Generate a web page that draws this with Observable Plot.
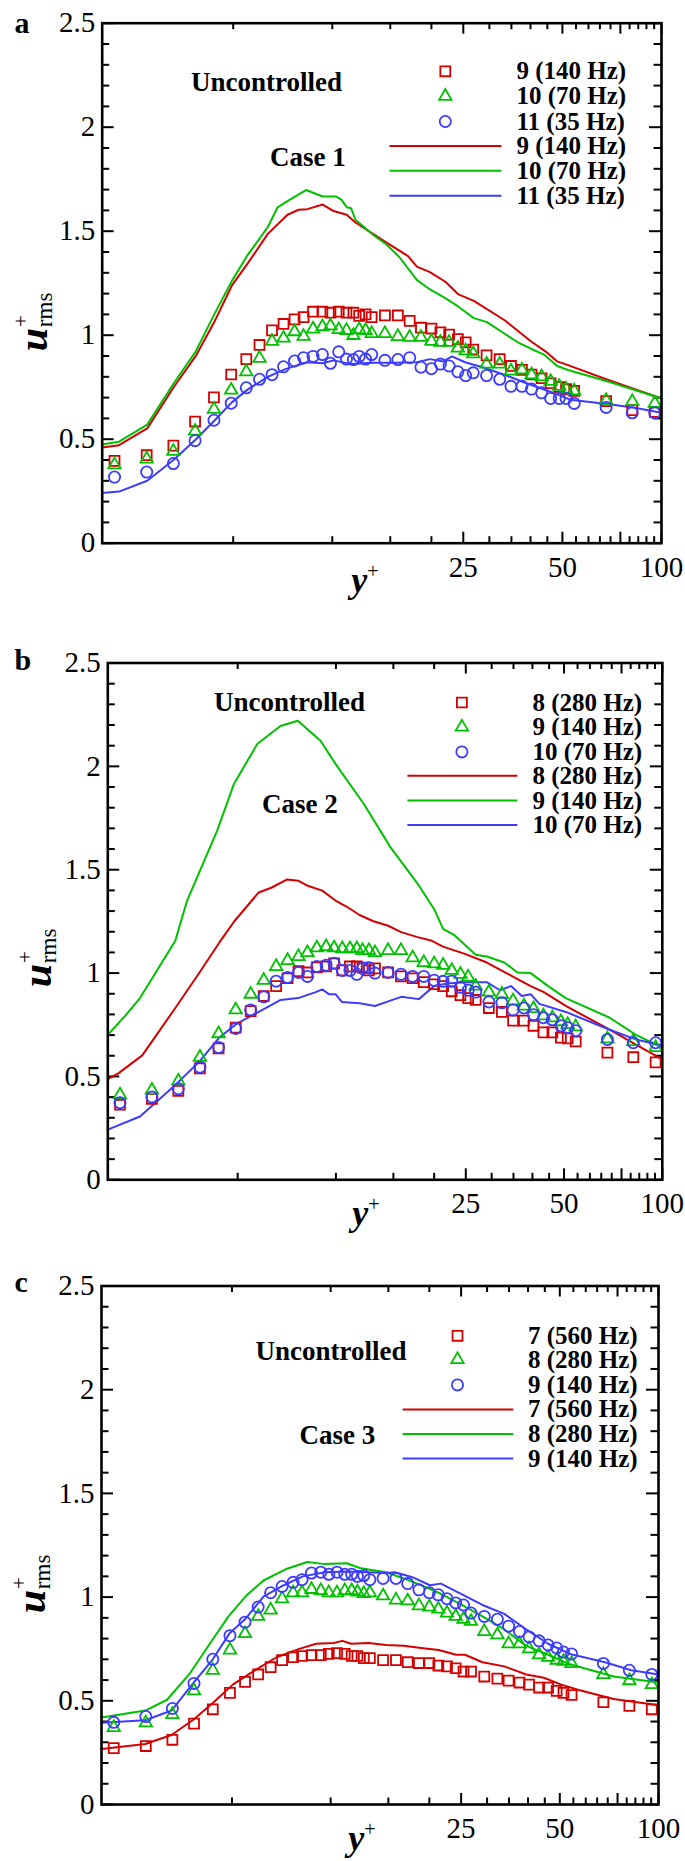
<!DOCTYPE html>
<html><head><meta charset="utf-8">
<script src="https://cdn.jsdelivr.net/npm/d3@7"></script>
<script src="https://cdn.jsdelivr.net/npm/@observablehq/plot@0.6"></script>
<style>
body{margin:0;background:#fff;}
#chart{width:685px;}
#chart svg{display:block;}
#chart svg text{font-family:'Liberation Serif','Times New Roman',serif;}
</style></head><body><div id="chart"></div>
<script>
// ---------- shared measurement positions (y+) ----------
const yPlusExp = [2.18, 2.73, 3.29, 3.83, 4.37, 4.93, 5.48, 6.01, 6.56, 7.11, 7.68, 8.18, 8.74, 9.33, 9.87, 10.46, 11.04, 11.59, 12.07, 12.62, 13.17, 14.45, 15.82, 17.18, 18.59, 20.0, 21.3, 22.64, 24.07, 25.42, 26.8, 29.42, 32.25, 34.9, 37.67, 40.3, 43.23, 46.05, 48.9, 51.3, 54.3, 67.9, 81.5, 95.4];

// ---------- Panel a (Case 1) ----------
const aLabels = ["9 (140 Hz)", "10 (70 Hz)", "11 (35 Hz)"];
const aExpRed = [0.396, 0.423, 0.469, 0.585, 0.701, 0.811, 0.885, 0.953, 1.023, 1.054, 1.076, 1.087, 1.113, 1.113, 1.108, 1.113, 1.108, 1.108, 1.093, 1.100, 1.087, 1.095, 1.095, 1.069, 1.036, 1.032, 1.014, 1.003, 0.981, 0.966, 0.931, 0.903, 0.885, 0.852, 0.833, 0.811, 0.793, 0.769, 0.751, 0.741, 0.732, 0.683, 0.640, 0.631];
const aExpGreen = [0.377, 0.405, 0.442, 0.539, 0.644, 0.736, 0.824, 0.889, 0.971, 0.986, 1.017, 0.995, 1.030, 1.041, 1.045, 1.027, 1.023, 0.999, 1.027, 1.023, 1.008, 1.008, 0.994, 0.990, 0.990, 0.971, 0.966, 0.966, 0.938, 0.925, 0.911, 0.861, 0.861, 0.828, 0.833, 0.810, 0.800, 0.778, 0.754, 0.741, 0.732, 0.686, 0.681, 0.673];
const aExpBlue = [0.318, 0.342, 0.383, 0.493, 0.591, 0.673, 0.747, 0.788, 0.810, 0.848, 0.876, 0.892, 0.898, 0.907, 0.865, 0.920, 0.885, 0.883, 0.898, 0.885, 0.907, 0.879, 0.883, 0.892, 0.846, 0.839, 0.861, 0.852, 0.824, 0.806, 0.819, 0.806, 0.788, 0.754, 0.754, 0.741, 0.723, 0.696, 0.696, 0.696, 0.672, 0.653, 0.627, 0.626];
const aRedX = [2, 2.25, 2.74, 3.30, 3.84, 4.38, 4.95, 5.50, 6.37, 7.31, 7.90, 8.40, 9.35, 10.09, 11.06, 11.76, 13.29, 14.58, 16.99, 18.06, 19.80, 22.05, 24.17, 26.91, 33.3, 40.1, 44.6, 48.2, 52.0, 69.6, 100];
const aRedY = [0.460, 0.471, 0.552, 0.751, 0.898, 1.063, 1.238, 1.339, 1.487, 1.579, 1.603, 1.606, 1.628, 1.597, 1.579, 1.542, 1.487, 1.446, 1.380, 1.330, 1.303, 1.257, 1.196, 1.165, 1.073, 0.971, 0.920, 0.874, 0.856, 0.782, 0.696];
const aGreenX = [2, 2.25, 2.74, 3.30, 3.84, 4.38, 4.95, 5.50, 6.37, 6.82, 7.43, 8.32, 9.35, 10.25, 10.66, 11.06, 11.41, 11.76, 13.29, 14.58, 15.98, 18.06, 19.80, 22.05, 24.17, 26.91, 29.5, 33.3, 36.6, 40.1, 43.97, 48.2, 52.0, 69.6, 100];
const aGreenY = [0.475, 0.488, 0.570, 0.769, 0.920, 1.100, 1.260, 1.380, 1.520, 1.615, 1.652, 1.698, 1.667, 1.667, 1.652, 1.615, 1.610, 1.555, 1.483, 1.437, 1.376, 1.266, 1.220, 1.178, 1.137, 1.082, 1.063, 1.008, 0.966, 0.935, 0.907, 0.852, 0.833, 0.775, 0.696];
const aBlueX = [2, 2.25, 2.74, 3.30, 3.84, 4.38, 4.95, 5.50, 6.37, 7.20, 8.40, 9.35, 10.09, 11.41, 13.29, 15.50, 18.06, 19.80, 21.71, 23.09, 25.31, 28.6, 33.3, 38.9, 45.3, 52.8, 69.6, 83.6, 100];
const aBlueY = [0.241, 0.248, 0.300, 0.401, 0.497, 0.589, 0.677, 0.736, 0.800, 0.837, 0.870, 0.865, 0.879, 0.861, 0.867, 0.867, 0.870, 0.885, 0.874, 0.898, 0.870, 0.846, 0.810, 0.769, 0.732, 0.690, 0.668, 0.650, 0.627];

// ---------- Panel b (Case 2) ----------
const bLabels = ["8 (280 Hz)", "9 (140 Hz)", "10 (70 Hz)"];
const bExpRed = [0.363, 0.392, 0.430, 0.539, 0.636, 0.736, 0.816, 0.889, 0.937, 0.975, 1.009, 1.003, 1.028, 1.032, 1.047, 1.013, 1.032, 1.032, 1.026, 1.013, 1.023, 1.003, 0.984, 0.975, 0.956, 0.946, 0.937, 0.912, 0.893, 0.879, 0.870, 0.831, 0.812, 0.770, 0.770, 0.745, 0.713, 0.713, 0.688, 0.684, 0.669, 0.615, 0.593, 0.568];
const bExpGreen = [0.411, 0.434, 0.478, 0.593, 0.707, 0.822, 0.898, 0.965, 1.032, 1.061, 1.080, 1.099, 1.122, 1.128, 1.122, 1.118, 1.118, 1.118, 1.109, 1.109, 1.099, 1.109, 1.109, 1.074, 1.051, 1.045, 1.038, 1.013, 0.994, 0.981, 0.937, 0.908, 0.898, 0.866, 0.841, 0.828, 0.793, 0.784, 0.765, 0.751, 0.740, 0.682, 0.669, 0.640];
const bExpBlue = [0.373, 0.401, 0.440, 0.545, 0.640, 0.732, 0.822, 0.885, 0.961, 0.979, 1.003, 0.984, 1.032, 1.038, 1.047, 1.013, 1.013, 0.994, 1.023, 1.026, 1.000, 1.003, 0.994, 0.984, 0.984, 0.965, 0.960, 0.961, 0.931, 0.917, 0.908, 0.860, 0.856, 0.822, 0.831, 0.799, 0.784, 0.774, 0.745, 0.736, 0.721, 0.679, 0.663, 0.663];
const bRedX = [2, 2.16, 2.55, 3.22, 3.82, 4.39, 4.89, 5.80, 6.36, 7.09, 7.66, 8.15, 9.08, 9.97, 10.77, 11.82, 12.97, 14.45, 15.85, 17.67, 19.69, 21.28, 24.83, 29.0, 33.85, 39.5, 43.35, 50.6, 69.0, 83.0, 100];
const bRedY = [0.487, 0.516, 0.602, 0.831, 1.003, 1.147, 1.252, 1.390, 1.414, 1.453, 1.447, 1.424, 1.399, 1.351, 1.322, 1.281, 1.252, 1.229, 1.198, 1.175, 1.156, 1.128, 1.093, 1.051, 0.994, 0.937, 0.908, 0.841, 0.726, 0.654, 0.583];
const bGreenX = [2, 2.26, 2.51, 3.22, 3.50, 4.33, 4.87, 5.74, 6.76, 7.64, 8.97, 9.97, 12.18, 14.7, 17.95, 20.0, 21.3, 22.99, 26.8, 29.0, 32.8, 36.0, 39.5, 44.7, 50.6, 69.0, 83.0, 100];
const bGreenY = [0.701, 0.793, 0.879, 1.156, 1.351, 1.690, 1.915, 2.108, 2.195, 2.221, 2.124, 2.012, 1.818, 1.608, 1.424, 1.309, 1.214, 1.185, 1.089, 1.080, 1.051, 1.003, 1.000, 0.937, 0.879, 0.784, 0.701, 0.640];
const bBlueX = [2, 2.51, 3.22, 3.82, 4.39, 4.97, 5.80, 6.77, 7.66, 8.67, 9.08, 9.52, 9.97, 10.44, 11.82, 13.17, 15.14, 15.85, 17.95, 20.0, 21.95, 24.83, 29.0, 31.8, 34.4, 37.1, 39.5, 42.0, 50.6, 69.0, 83.0, 100];
const bBlueY = [0.243, 0.306, 0.459, 0.573, 0.688, 0.755, 0.812, 0.870, 0.879, 0.908, 0.921, 0.898, 0.898, 0.860, 0.854, 0.841, 0.874, 0.885, 0.874, 0.937, 0.950, 0.956, 0.956, 0.917, 0.937, 0.889, 0.898, 0.851, 0.812, 0.726, 0.679, 0.650];

// ---------- Panel c (Case 3) ----------
const cLabels = ["7 (560 Hz)", "8 (280 Hz)", "9 (140 Hz)"];
const cExpRed = [0.272, 0.282, 0.312, 0.390, 0.459, 0.538, 0.591, 0.627, 0.662, 0.696, 0.710, 0.716, 0.720, 0.720, 0.726, 0.730, 0.726, 0.716, 0.716, 0.706, 0.706, 0.696, 0.696, 0.686, 0.682, 0.682, 0.670, 0.666, 0.657, 0.641, 0.641, 0.617, 0.607, 0.597, 0.588, 0.578, 0.564, 0.564, 0.548, 0.538, 0.528, 0.493, 0.475, 0.459];
const cExpGreen = [0.371, 0.394, 0.434, 0.548, 0.647, 0.745, 0.824, 0.907, 0.938, 0.992, 1.021, 1.021, 1.037, 1.031, 1.021, 1.021, 1.031, 1.031, 1.025, 1.017, 1.021, 1.006, 0.986, 0.982, 0.958, 0.952, 0.942, 0.923, 0.907, 0.893, 0.883, 0.834, 0.818, 0.775, 0.775, 0.751, 0.722, 0.710, 0.696, 0.690, 0.680, 0.627, 0.597, 0.578];
const cExpBlue = [0.396, 0.424, 0.463, 0.584, 0.700, 0.814, 0.879, 0.952, 1.021, 1.051, 1.071, 1.084, 1.116, 1.120, 1.110, 1.120, 1.110, 1.110, 1.100, 1.104, 1.084, 1.090, 1.090, 1.065, 1.035, 1.021, 1.011, 0.992, 0.972, 0.962, 0.923, 0.907, 0.893, 0.860, 0.834, 0.808, 0.789, 0.769, 0.755, 0.735, 0.726, 0.680, 0.647, 0.627];
const cRedX = [2, 2.72, 3.27, 3.82, 4.37, 5.03, 5.87, 6.84, 7.98, 9.03, 10.21, 10.86, 11.54, 13.06, 14.77, 16.70, 18.88, 21.35, 24.15, 25.68, 29.04, 33.87, 39.51, 44.69, 50.5, 57.1, 73.0, 100];
const cRedY = [0.268, 0.292, 0.335, 0.410, 0.489, 0.578, 0.647, 0.710, 0.749, 0.775, 0.779, 0.789, 0.775, 0.779, 0.769, 0.765, 0.755, 0.745, 0.722, 0.722, 0.686, 0.666, 0.627, 0.611, 0.578, 0.552, 0.509, 0.479];
const cGreenX = [2, 2.72, 3.17, 3.70, 4.32, 4.88, 5.52, 6.24, 7.28, 8.49, 9.60, 11.20, 12.28, 13.47, 14.77, 16.70, 18.88, 21.35, 24.90, 29.04, 33.87, 39.51, 46.06, 53.7, 73.0, 100];
const cGreenY = [0.420, 0.453, 0.505, 0.627, 0.785, 0.907, 1.006, 1.080, 1.134, 1.169, 1.159, 1.163, 1.140, 1.130, 1.120, 1.090, 1.057, 1.021, 0.966, 0.907, 0.844, 0.765, 0.722, 0.676, 0.617, 0.588];
const cBlueX = [2, 2.72, 3.27, 3.82, 4.37, 4.91, 5.48, 6.24, 7.06, 8.23, 9.60, 11.20, 13.06, 14.77, 15.70, 17.76, 20.08, 21.69, 24.90, 29.04, 33.87, 39.51, 46.06, 53.7, 68.7, 82.6, 100];
const cBlueY = [0.394, 0.406, 0.453, 0.588, 0.700, 0.824, 0.893, 1.002, 1.051, 1.100, 1.120, 1.124, 1.120, 1.116, 1.120, 1.096, 1.057, 1.065, 1.017, 0.962, 0.919, 0.844, 0.775, 0.726, 0.686, 0.647, 0.627];

// ---------- axis ticks ----------
const xMajorTicks = [25, 50, 75, 100];
const xMinorTicks = [5, 10, 15, 20, 30, 35, 40, 45, 55, 60, 65, 70, 80, 85, 90, 95];
const yMajorTicks = [0, 0.5, 1, 1.5, 2, 2.5];
const yMinorTicks = [0.1, 0.2, 0.3, 0.4, 0.6, 0.7, 0.8, 0.9, 1.1, 1.2, 1.3, 1.4, 1.6, 1.7, 1.8, 1.9, 2.1, 2.2, 2.3, 2.4];

const RED = "#d40000", GREEN = "#00c000", BLUE = "#3c3cff";
const COLORS = [RED, GREEN, BLUE];
const SYMBOLS = ["square", "triangle", "circle"];
const RADII = [5.6, 4.6, 5.6];
const FONT = "Liberation Serif";

const zip = (xs, ys) => xs.map((x, i) => ({x, y: ys[i]}));
const hline = (w) => ({draw(ctx) { ctx.moveTo(-w, 0); ctx.lineTo(w, 0); }});

function panel(cfg) {
  const W = 685, H = cfg.height;
  const ml = cfg.ml, mr = cfg.mr, mt = cfg.mt, mb = cfg.mb;
  const iw = W - ml - mr, ih = H - mt - mb;
  const at = (X, Y) => ({frameAnchor: "top-left", dx: X - ml, dy: Y - mt});
  const marks = [];
  // ticks (inward on all four sides)
  marks.push(Plot.tickX(xMajorTicks, {x: d => d, insetTop: ih - 11, stroke: "black", strokeWidth: 2}));
  marks.push(Plot.tickX(xMajorTicks, {x: d => d, insetBottom: ih - 11, stroke: "black", strokeWidth: 2}));
  marks.push(Plot.tickX(xMinorTicks, {x: d => d, insetTop: ih - 6.5, stroke: "black", strokeWidth: 2}));
  marks.push(Plot.tickX(xMinorTicks, {x: d => d, insetBottom: ih - 6.5, stroke: "black", strokeWidth: 2}));
  marks.push(Plot.tickY(yMajorTicks, {y: d => d, insetRight: iw - 12, stroke: "black", strokeWidth: 2}));
  marks.push(Plot.tickY(yMajorTicks, {y: d => d, insetLeft: iw - 12, stroke: "black", strokeWidth: 2}));
  marks.push(Plot.tickY(yMinorTicks, {y: d => d, insetRight: iw - 7.5, stroke: "black", strokeWidth: 2}));
  marks.push(Plot.tickY(yMinorTicks, {y: d => d, insetLeft: iw - 7.5, stroke: "black", strokeWidth: 2}));
  // tick labels
  marks.push(Plot.axisX({anchor: "bottom", ticks: xMajorTicks, tickSize: 0, tickPadding: 13, tickFormat: d => String(d), fontSize: 29, fontFamily: FONT, label: null}));
  marks.push(Plot.axisY({anchor: "left", ticks: yMajorTicks, tickSize: 0, tickPadding: 7, tickFormat: d => String(d), fontSize: 29, fontFamily: FONT, label: null}));
  // curves
  cfg.lines.forEach((l, i) => {
    marks.push(Plot.line(zip(l[0], l[1]), {x: "x", y: "y", stroke: COLORS[i], strokeWidth: 2}));
  });
  // experimental symbols
  cfg.exp.forEach((ys, i) => {
    marks.push(Plot.dot(zip(yPlusExp, ys), {x: "x", y: "y", symbol: SYMBOLS[i], r: RADII[i], stroke: COLORS[i], fill: "none", strokeWidth: 1.8}));
  });
  marks.push(Plot.frame({stroke: "black", strokeWidth: 2.6}));
  // annotations
  const tx = {textAnchor: "start", lineAnchor: "middle", fontWeight: "bold", fontFamily: FONT};
  marks.push(Plot.text(["Uncontrolled"], {...at(cfg.unc[0], cfg.unc[1]), text: d => d, ...tx, fontSize: 27}));
  marks.push(Plot.text([cfg.caseName], {...at(cfg.cas[0], cfg.cas[1]), text: d => d, ...tx, fontSize: 27}));
  // legend
  cfg.labels.forEach((lab, i) => {
    const ys = cfg.legRows[i], yl = cfg.legRows[i + 3];
    marks.push(Plot.dot([0], {...at(cfg.legSymX, ys), symbol: SYMBOLS[i], r: RADII[i], stroke: COLORS[i], fill: "none", strokeWidth: 1.8}));
    marks.push(Plot.dot([0], {...at(cfg.legLineX, yl), symbol: hline(cfg.legLineHalf), stroke: COLORS[i], fill: "none", strokeWidth: 2}));
    marks.push(Plot.text([lab], {...at(cfg.legTextX, ys), text: d => d, ...tx, fontSize: 25}));
    marks.push(Plot.text([lab], {...at(cfg.legTextX, yl), text: d => d, ...tx, fontSize: 25}));
  });
  // panel letter
  marks.push(Plot.text([cfg.letter], {...at(14, cfg.letterY), text: d => d, textAnchor: "start", lineAnchor: "bottom", fontWeight: "bold", fontFamily: FONT, fontSize: 30}));

  const svg = Plot.plot({
    width: W, height: H,
    marginLeft: ml, marginRight: mr, marginTop: mt, marginBottom: mb,
    x: {type: "log", domain: [2, 100], axis: null},
    y: {domain: [0, 2.5], axis: null},
    style: {fontFamily: FONT, background: "white", color: "black", overflow: "visible"},
    marks
  });
  const s = d3.select(svg);
  // x title: y+
  const xt = s.append("text").attr("x", cfg.xTitle[0]).attr("y", cfg.xTitle[1])
    .attr("font-family", FONT).attr("font-size", 36).attr("fill", "black");
  xt.append("tspan").attr("font-weight", "bold").attr("font-style", "italic").text("y");
  xt.append("tspan").attr("font-size", 20).attr("dy", -14).text("+");
  // y title: u+rms (rotated)
  const yt = s.append("text").attr("transform", `translate(${cfg.yTitle[0]},${cfg.yTitle[1]}) rotate(-90)`)
    .attr("font-family", FONT).attr("font-size", 42).attr("fill", "black");
  yt.append("tspan").attr("font-weight", "bold").attr("font-style", "italic").text("u");
  yt.append("tspan").attr("font-size", 21).attr("dy", -19).attr("dx", 1).text("+");
  yt.append("tspan").attr("font-size", 23).attr("dy", 24).attr("dx", -12).text("rms");
  return svg;
}

const chart = document.getElementById("chart");
chart.appendChild(panel({
  height: 600, ml: 101.7, mr: 24, mt: 22.7, mb: 57.3, letter: "a", letterY: 32.3,
  lines: [[aRedX, aRedY], [aGreenX, aGreenY], [aBlueX, aBlueY]],
  exp: [aExpRed, aExpGreen, aExpBlue], labels: aLabels, caseName: "Case 1",
  unc: [190.6, 82], cas: [269.5, 157],
  legSymX: 444.8, legLineX: 445, legLineHalf: 56, legTextX: 516,
  legRows: [70.8, 95.7, 121, 145.4, 170.3, 195.2],
  xTitle: [365, 592], yTitle: [47, 322]
}));
chart.appendChild(panel({
  height: 635, ml: 107.3, mr: 23.2, mt: 62.5, mb: 55.7, letter: "b", letterY: 69,
  lines: [[bRedX, bRedY], [bGreenX, bGreenY], [bBlueX, bBlueY]],
  exp: [bExpRed, bExpGreen, bExpBlue], labels: bLabels, caseName: "Case 2",
  unc: [213.4, 102], cas: [261.6, 203.6],
  legSymX: 461.4, legLineX: 461.9, legLineHalf: 55, legTextX: 532,
  legRows: [102, 126.5, 151.4, 175.2, 200, 224.6],
  xTitle: [366, 625], yTitle: [51, 358]
}));
chart.appendChild(panel({
  height: 626, ml: 101, mr: 27, mt: 50.5, mb: 57, letter: "c", letterY: 56.7,
  lines: [[cRedX, cRedY], [cGreenX, cGreenY], [cBlueX, cBlueY]],
  exp: [cExpRed, cExpGreen, cExpBlue], labels: cLabels, caseName: "Case 3",
  unc: [255, 115.8], cas: [299, 199.6],
  legSymX: 457, legLineX: 457.4, legLineHalf: 55.3, legTextX: 527.5,
  legRows: [100.3, 124, 149.4, 173.9, 198.4, 223],
  xTitle: [362, 615], yTitle: [45, 349]
}));
</script></body></html>
